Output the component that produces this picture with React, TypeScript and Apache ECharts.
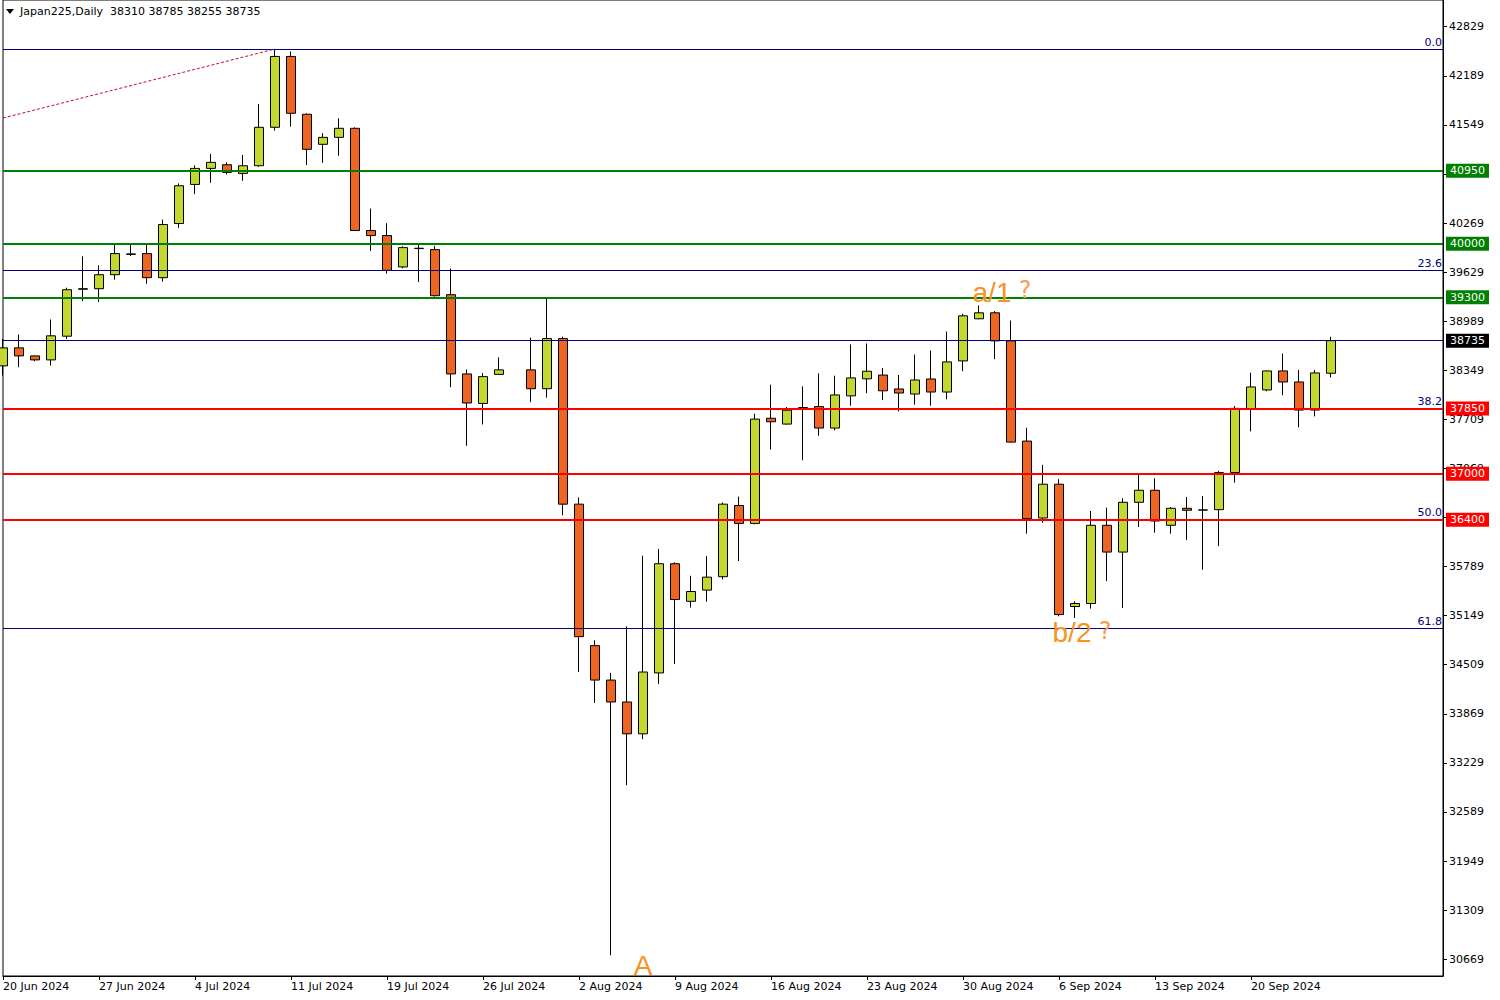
import React, { useEffect, useRef } from "react";
import * as echarts from "echarts";

// ---------- DATA ----------
const categories: string[] = [
  "20 Jun 2024", "21 Jun 2024", "23 Jun 2024", "24 Jun 2024", "25 Jun 2024", "26 Jun 2024",
  "27 Jun 2024", "28 Jun 2024", "30 Jun 2024", "1 Jul 2024", "2 Jul 2024", "3 Jul 2024",
  "4 Jul 2024", "5 Jul 2024", "7 Jul 2024", "8 Jul 2024", "9 Jul 2024", "10 Jul 2024",
  "11 Jul 2024", "12 Jul 2024", "14 Jul 2024", "16 Jul 2024", "17 Jul 2024", "18 Jul 2024",
  "19 Jul 2024", "21 Jul 2024", "22 Jul 2024", "23 Jul 2024", "24 Jul 2024", "25 Jul 2024",
  "26 Jul 2024", "28 Jul 2024", "29 Jul 2024", "30 Jul 2024", "31 Jul 2024", "1 Aug 2024",
  "2 Aug 2024", "4 Aug 2024", "5 Aug 2024", "6 Aug 2024", "7 Aug 2024", "8 Aug 2024",
  "9 Aug 2024", "11 Aug 2024", "12 Aug 2024", "13 Aug 2024", "14 Aug 2024", "15 Aug 2024",
  "16 Aug 2024", "18 Aug 2024", "19 Aug 2024", "20 Aug 2024", "21 Aug 2024", "22 Aug 2024",
  "23 Aug 2024", "25 Aug 2024", "26 Aug 2024", "27 Aug 2024", "28 Aug 2024", "29 Aug 2024",
  "30 Aug 2024", "1 Sep 2024", "2 Sep 2024", "3 Sep 2024", "4 Sep 2024", "5 Sep 2024",
  "6 Sep 2024", "8 Sep 2024", "9 Sep 2024", "10 Sep 2024", "11 Sep 2024", "12 Sep 2024",
  "13 Sep 2024", "15 Sep 2024", "16 Sep 2024", "17 Sep 2024", "18 Sep 2024", "19 Sep 2024",
  "20 Sep 2024", "22 Sep 2024", "23 Sep 2024", "24 Sep 2024", "25 Sep 2024", "26 Sep 2024",
];

const opens: (number | null)[] = [
  38406, 38641, 38536, 38484, 38793, 39405, 39412, 39595, 39866, 39870,
  39556, 40262, 40772, 40981, 41029, 40916, 41016, 41517, 42441, 41687,
  41295, 41386, 41504, 40171, 40105, 39696, 39940, 39922, 39334, 38301,
  37916, 38295, null, 38354, 38108, 38762, 36603, 34758, 34309, 34023,
  33608, 34402, 35826, 35336, 35482, 35657, 36585, 36352, 37723, 37647,
  37863, 37875, 37595, 38015, 38237, 38286, 38105, 38039, 38235, 38065,
  38471, 39020, 39098, 38732, 37425, 36422, 36863, 35268, 35307, 36327,
  35978, 36627, 36784, 36327, 36549, 36528, 36531, 37015, 37843, 38092,
  38340, 38196, 37830, 38310,
];
const highs: (number | null)[] = [
  38759, 38815, 38540, 39011, 39425, 39835, 39717, 39992, 39992, 39992,
  40314, 40785, 41020, 41169, 41060, 41156, 41822, 42528, 42506, 41700,
  41439, 41635, 41517, 40458, 40266, 39966, 39992, 39970, 39674, 38358,
  38313, 38517, null, 38774, 39305, 38786, 36690, 34828, 34402, 35009,
  35931, 36019, 35844, 35669, 35925, 36626, 36702, 37782, 38161, 37869,
  38138, 38307, 38278, 38686, 38698, 38378, 38288, 38554, 38606, 38854,
  39085, 39194, 39120, 38998, 37599, 37115, 36928, 35337, 36514, 36558,
  36680, 37002, 36941, 36566, 36697, 36710, 37037, 37882, 38318, 38345,
  38567, 38353, 38353, 38785,
];
const lows: (number | null)[] = [
  38279, 38388, 38467, 38410, 38759, 39251, 39238, 39530, 39839, 39478,
  39504, 40206, 40646, 40794, 40903, 40820, 41003, 41474, 41526, 41025,
  41055, 41147, 40165, 39905, 39608, 39678, 39499, 39310, 38127, 37364,
  37642, 38290, null, 37933, 37992, 36457, 34414, 34011, 30719, 32937,
  33538, 34256, 34519, 35254, 35330, 35622, 35861, 36340, 37315, 37640,
  37175, 37496, 37566, 37887, 38050, 37959, 37813, 37900, 37887, 37970,
  38336, 39015, 38493, 37405, 36218, 36361, 35141, 35119, 35241, 35599,
  35250, 36305, 36231, 36218, 36135, 35747, 36056, 36884, 37551, 38074,
  38022, 37603, 37747, 38255,
];
const closes: (number | null)[] = [
  38641, 38536, 38484, 38798, 39399, 39412, 39595, 39870, 39860, 39556,
  40249, 40755, 40981, 41060, 40929, 41016, 41517, 42441, 41700, 41230,
  41386, 41504, 40171, 40105, 39652, 39948, 39935, 39321, 38301, 37922,
  38266, 38354, null, 38108, 38762, 36603, 34875, 34309, 34023, 33608,
  34414, 35826, 35359, 35464, 35651, 36603, 36352, 37712, 37677, 37828,
  37850, 37595, 38027, 38249, 38336, 38081, 38052, 38222, 38065, 38458,
  39059, 39098, 38732, 37412, 36414, 36863, 35163, 35307, 36327, 35978,
  36627, 36784, 36383, 36549, 36523, 36525, 37015, 37852, 38131, 38340,
  38196, 37830, 38314, 38735,
];

const yTicks = [
  30669, 31309, 31949, 32589, 33229, 33869, 34509, 35149, 35789, 36429,
  37069, 37709, 38349, 38989, 39629, 40269, 40909, 41549, 42189, 42829,
];
const greenLevels = [40950, 40000, 39300];
const redLevels = [37850, 37000, 36400];
const fibValues = [42538, 39656, 37853, 36405, 34991];
const fibLabels = ["0.0", "23.6", "38.2", "50.0", "61.8"];
const lastPrice = 38735;
const trendFrom = { idx: 0, price: 41638 };
const trendTo = { idx: 17, price: 42538 };
const annotations = [
  { text: "a/1", q: true, idx: 62, price: 39363 },
  { text: "b/2", q: true, idx: 67, price: 34923 },
  { text: "A", q: false, idx: 40, price: 30585 },
];
const symbolName = "Japan225,Daily";

// ---------- STYLE ----------
const FONT = "DejaVu Sans";
const BULL = "#c3d82e";
const BEAR = "#f06423";
const NAVY = "#000080";
const ORANGE = "#f7931e";
const PAD_BARS = 7;

export default function App() {
  const ref = useRef<HTMLDivElement | null>(null);

  useEffect(() => {
    if (!ref.current) return;
    const chart = echarts.init(ref.current, null, { renderer: "svg" });

    const xData = [...categories, ...Array.from({ length: PAD_BARS }, (_, i) => `pad${i}`)];
    const tickFn = (index: number) => index < categories.length && index % 6 === 0;

    const candleData = categories.map((_, i) =>
      opens[i] == null ? "-" : [opens[i], closes[i], lows[i], highs[i]]
    );

    const last = categories.length - 1;
    const title = `${symbolName}  ${opens[last]} ${highs[last]} ${lows[last]} ${closes[last]}`;

    const levelLabel = (bg: string) => ({
      show: true,
      position: "end",
      distance: 3,
      formatter: (p: any) => String(p.value),
      color: "#fff",
      backgroundColor: bg,
      padding: [1, 4, 1, 4],
      fontSize: 11,
      lineHeight: 12,
      fontFamily: FONT,
    });

    const markLineData: any[] = [];
    fibValues.forEach((v, i) => {
      markLineData.push({
        yAxis: v,
        lineStyle: { color: NAVY, width: 1, type: "solid" },
        label: {
          show: true,
          position: "insideEndTop",
          formatter: fibLabels[i],
          color: NAVY,
          fontSize: 11,
          fontFamily: FONT,
          distance: 1,
        },
      });
    });
    markLineData.push({
      yAxis: lastPrice,
      lineStyle: { color: NAVY, width: 1, type: "solid" },
      label: levelLabel("#000"),
    });
    greenLevels.forEach((v) =>
      markLineData.push({
        yAxis: v,
        lineStyle: { color: "#008000", width: 2, type: "solid" },
        label: levelLabel("#008000"),
      })
    );
    redLevels.forEach((v) =>
      markLineData.push({
        yAxis: v,
        lineStyle: { color: "#ff0000", width: 2, type: "solid" },
        label: levelLabel("#ff0000"),
      })
    );
    markLineData.push([
      {
        coord: [categories[trendFrom.idx], trendFrom.price],
        lineStyle: { color: "#c0102a", width: 1, type: [3, 2] },
        label: { show: false },
      },
      { coord: [categories[trendTo.idx], trendTo.price] },
    ]);

    const markPointData: any[] = [];
    annotations.forEach((a) => {
      markPointData.push({
        coord: [categories[a.idx], a.price],
        label: {
          show: true,
          position: "inside",
          offset: [a.q ? -3 : 0, 0],
          formatter: a.text,
          fontFamily: "Liberation Sans",
          fontSize: 28,
          color: ORANGE,
        },
      });
      if (a.q) {
        markPointData.push({
          coord: [categories[a.idx], a.price],
          label: {
            show: true,
            position: "inside",
            offset: [30, -2],
            formatter: "?",
            fontFamily: "DejaVu Sans",
            fontSize: 24,
            color: "#f5a04a",
          },
        });
      }
    });

    const option: any = {
      animation: false,
      backgroundColor: "#ffffff",
      textStyle: { fontFamily: FONT },
      grid: {
        left: 3,
        right: 57,
        top: 0,
        bottom: 24,
        show: true,
        borderColor: "#000",
        borderWidth: 1,
        backgroundColor: "transparent",
      },
      graphic: [
        {
          type: "polygon",
          shape: { points: [[6, 9], [14, 9], [10, 14]] },
          style: { fill: "#000" },
        },
        {
          type: "text",
          left: 20,
          top: 6,
          style: { text: title, fill: "#000", font: `11px '${FONT}'` },
        },
      ],
      xAxis: {
        type: "category",
        data: xData,
        boundaryGap: false,
        axisLine: { show: true, lineStyle: { color: "#000", width: 1 } },
        axisTick: { show: true, interval: tickFn, length: 4, lineStyle: { color: "#000" } },
        axisLabel: {
          interval: tickFn,
          align: "left",
          margin: 5,
          color: "#000",
          fontSize: 11,
          fontFamily: FONT,
        },
        splitLine: { show: false },
      },
      yAxis: {
        type: "value",
        position: "right",
        min: 30450,
        max: 43177,
        scale: true,
        axisLine: { show: true, lineStyle: { color: "#000", width: 1 } },
        axisTick: { show: true, length: 4, customValues: yTicks, lineStyle: { color: "#000" } },
        axisLabel: {
          customValues: yTicks,
          formatter: (v: number) => String(Math.round(v)),
          color: "#000",
          fontSize: 11,
          fontFamily: FONT,
          margin: 6,
        },
        splitLine: { show: false },
      },
      series: [
        {
          type: "candlestick",
          data: candleData,
          barWidth: 9,
          clip: true,
          itemStyle: {
            color: BULL,
            color0: BEAR,
            borderColor: "#000",
            borderColor0: "#000",
            borderWidth: 1,
          },
          markLine: {
            silent: true,
            symbol: ["none", "none"],
            animation: false,
            data: markLineData,
          },
          markPoint: {
            silent: true,
            symbol: "circle",
            symbolSize: 0,
            animation: false,
            data: markPointData,
          },
        },
      ],
    };

    chart.setOption(option);
    return () => chart.dispose();
  }, []);

  return (
    <div
      ref={ref}
      style={{ position: "fixed", left: 0, top: 0, width: 1500, height: 1000, background: "#fff" }}
    />
  );
}
